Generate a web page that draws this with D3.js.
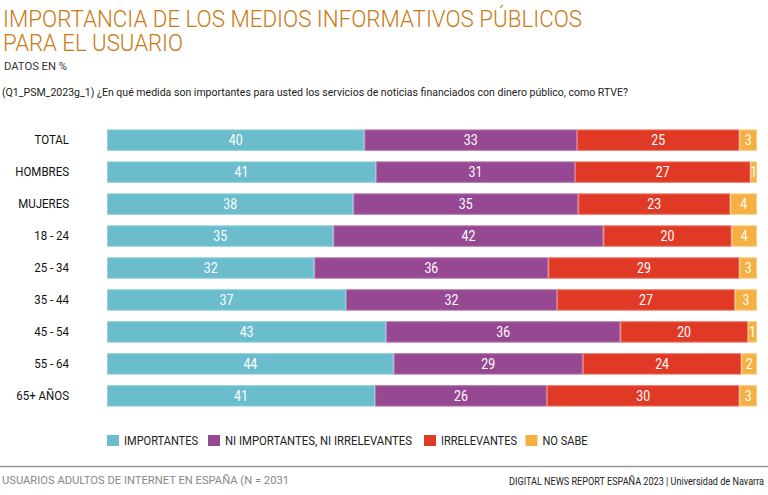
<!DOCTYPE html>
<html><head><meta charset="utf-8">
<script src="https://cdn.jsdelivr.net/npm/d3@7"></script>
<style>
body{margin:0;background:#fff;}
svg{display:block;font-family:Roboto,"Open Sans",sans-serif;}
</style></head>
<body><svg id="c" width="768" height="495"></svg>
<script>
const categories = ["TOTAL","HOMBRES","MUJERES","18 - 24","25 - 34","35 - 44","45 - 54","55 - 64","65+ AÑOS"];
const seriesNames = ["IMPORTANTES","NI IMPORTANTES, NI IRRELEVANTES","IRRELEVANTES","NO SABE"];
const importantes   = [39.6, 41.4, 37.9, 34.8, 31.9, 36.7, 42.9, 44.1, 41.2];
const niNi          = [32.7, 30.6, 34.6, 41.5, 36.0, 32.4, 36.0, 29.1, 26.4];
const irrelevantes  = [25.0, 27.0, 23.4, 19.7, 29.4, 27.3, 19.6, 24.4, 29.6];
const noSabe        = [2.7, 1.0, 4.1, 3.9, 2.7, 3.4, 1.4, 2.4, 2.7];
const colors = ["#6bbccc","#964892","#e03a26","#f5b041"];
const strokes = ["#8fd0dc","#b277ae","#ee7565","#f9cd80"];

const svg = d3.select("#c");
const series = [importantes, niNi, irrelevantes, noSabe];
const rows = categories.map((c,i)=>{
  const o = {cat:c};
  seriesNames.forEach((s,j)=>o[s]=series[j][i]);
  return o;
});
const stacked = d3.stack().keys(seriesNames).offset(d3.stackOffsetExpand)(rows);

const x = d3.scaleLinear().domain([0,1]).range([107,757]);
const y = d3.scaleBand().domain(categories).range([124,412]).paddingInner(0.33).paddingOuter(0.17);

function fitTo(sel, w){ sel.attr("textLength", w).attr("lengthAdjust","spacingAndGlyphs"); return sel; }
function condense(sel, k){
  sel.each(function(){
    const L = this.getComputedTextLength();
    this.setAttribute("textLength", L*k);
    this.setAttribute("lengthAdjust","spacingAndGlyphs");
  });
}

// titles
fitTo(svg.append("text").attr("x",3).attr("y",27).attr("fill","#c97a14")
  .style("font-size","23.5px").style("font-weight",300).text("IMPORTANCIA DE LOS MEDIOS INFORMATIVOS PÚBLICOS"), 579);
fitTo(svg.append("text").attr("x",3).attr("y",51).attr("fill","#c97a14")
  .style("font-size","23.5px").style("font-weight",300).text("PARA EL USUARIO"), 180);
fitTo(svg.append("text").attr("x",4).attr("y",70).attr("fill","#333")
  .style("font-size","11.5px").text("DATOS EN %"), 63);
fitTo(svg.append("text").attr("x",2).attr("y",96).attr("fill","#222")
  .style("font-size","11.5px").text("(Q1_PSM_2023g_1) ¿En qué medida son importantes para usted los servicios de noticias financiados con dinero público, como RTVE?"), 626);

// bars
const g = svg.append("g");
stacked.forEach((s,j)=>{
  const gs = g.append("g");
  gs.selectAll("rect").data(s).join("rect")
    .attr("x",d=>x(d[0])+0.5).attr("y",d=>y(d.data.cat)+0.5)
    .attr("width",d=>Math.max(0,x(d[1])-x(d[0])-1)).attr("height",y.bandwidth()-1)
    .attr("fill",colors[j]).attr("stroke",strokes[j]).attr("stroke-width",1);
  const t = gs.selectAll("text").data(s).join("text")
    .attr("x",d=>(x(d[0])+x(d[1]))/2).attr("y",d=>y(d.data.cat)+y.bandwidth()/2+5)
    .attr("text-anchor","middle").attr("fill","#fff").style("font-size","14px")
    .text(d=>Math.round(d.data[seriesNames[j]]));
  condense(t, 0.88);
});

// category axis
const ax = svg.append("g").attr("transform","translate(69,0)")
  .call(d3.axisLeft(y).tickSize(0).tickPadding(0));
ax.select(".domain").remove();
ax.selectAll("text").attr("fill","#111").style("font-size","12.5px")
  .style("font-family","Roboto,\"Open Sans\",sans-serif");
condense(ax.selectAll("text"), 0.92);

// legend
const legX = [107,208,424,525.5];
const legW = [74,187,76,45];
const lg = svg.append("g");
seriesNames.forEach((s,j)=>{
  lg.append("rect").attr("x",legX[j]).attr("y",435).attr("width",12).attr("height",11)
    .attr("fill",colors[j]);
  fitTo(lg.append("text").attr("x",legX[j]+17).attr("y",445).attr("fill","#222")
    .style("font-size","12px").text(s), legW[j]);
});

// footer
svg.append("line").attr("x1",0).attr("x2",768).attr("y1",466.5).attr("y2",466.5)
  .attr("stroke","#999").attr("stroke-width",1.5);
fitTo(svg.append("text").attr("x",2).attr("y",484).attr("fill","#888")
  .style("font-size","11.5px").text("USUARIOS ADULTOS DE INTERNET EN ESPAÑA (N = 2031"), 287);
fitTo(svg.append("text").attr("x",764).attr("y",485).attr("text-anchor","end").attr("fill","#222")
  .style("font-size","11px").text("DIGITAL NEWS REPORT ESPAÑA 2023 | Universidad de Navarra"), 255);
</script></body></html>
